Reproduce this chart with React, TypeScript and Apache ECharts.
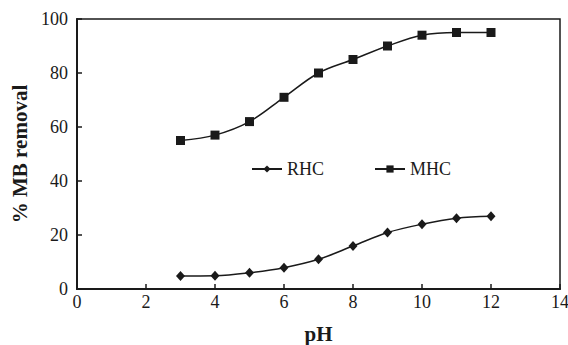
import React, { useEffect, useRef } from "react";
import * as echarts from "echarts";

const phValues = [3, 4, 5, 6, 7, 8, 9, 10, 11, 12];
const rhcValues = [4.8, 4.9, 6.0, 7.9, 11, 15.9, 20.9, 24, 26.2, 26.9];
const mhcValues = [55, 57, 62, 71, 80, 85, 90, 94, 95, 95];
const seriesNames = ["RHC", "MHC"];

const FONT = "'Liberation Serif', 'Times New Roman', serif";
const INK = "#1a1a1a";

export default function App() {
  const ref = useRef<HTMLDivElement>(null);
  useEffect(() => {
    if (!ref.current) return;
    const chart = echarts.init(ref.current, undefined, { renderer: "svg" });
    const toPairs = (ys: number[]) => phValues.map((x, i) => [x, ys[i]]);
    chart.setOption({
      animation: false,
      backgroundColor: "#fff",
      textStyle: { fontFamily: FONT, color: INK },
      grid: {
        left: 77,
        right: 8,
        top: 19,
        bottom: 56,
        containLabel: false,
        outerBoundsMode: "none",
        show: true,
        borderColor: INK,
        borderWidth: 1.5,
      },
      legend: {
        left: 251,
        top: 160,
        padding: 0,
        itemWidth: 30,
        itemHeight: 9,
        itemGap: 50,
        textStyle: { fontFamily: FONT, fontSize: 18, color: INK },
        data: seriesNames,
      },
      xAxis: {
        type: "value",
        min: 0,
        max: 14,
        interval: 2,
        name: "pH",
        nameLocation: "middle",
        nameGap: 34,
        nameTextStyle: { fontFamily: FONT, fontSize: 21, fontWeight: "bold", color: INK },
        axisLine: { show: true, lineStyle: { color: INK, width: 2 } },
        axisTick: { show: true, inside: true, length: 5, lineStyle: { color: INK, width: 1.5 } },
        axisLabel: { fontFamily: FONT, fontSize: 18, color: INK, margin: 4 },
        splitLine: { show: false },
      },
      yAxis: {
        type: "value",
        min: 0,
        max: 100,
        interval: 20,
        name: "% MB removal",
        nameLocation: "middle",
        nameGap: 45,
        nameTextStyle: { fontFamily: FONT, fontSize: 21, fontWeight: "bold", color: INK },
        axisLine: { show: true, lineStyle: { color: INK, width: 2 } },
        axisTick: { show: true, inside: true, length: 5, lineStyle: { color: INK, width: 1.5 } },
        axisLabel: { fontFamily: FONT, fontSize: 18, color: INK, margin: 9 },
        splitLine: { show: false },
      },
      series: [
        {
          name: seriesNames[0],
          type: "line",
          data: toPairs(rhcValues),
          smooth: 0.35,
          symbol: "diamond",
          symbolSize: [9, 10],
          lineStyle: { color: INK, width: 1.5 },
          itemStyle: { color: INK },
        },
        {
          name: seriesNames[1],
          type: "line",
          data: toPairs(mhcValues),
          smooth: 0.35,
          symbol: "rect",
          symbolSize: 9,
          lineStyle: { color: INK, width: 1.5 },
          itemStyle: { color: INK },
        },
      ],
    });
    return () => chart.dispose();
  }, []);
  return <div ref={ref} style={{ width: 568, height: 345, position: "absolute", left: 0, top: 0 }} />;
}
